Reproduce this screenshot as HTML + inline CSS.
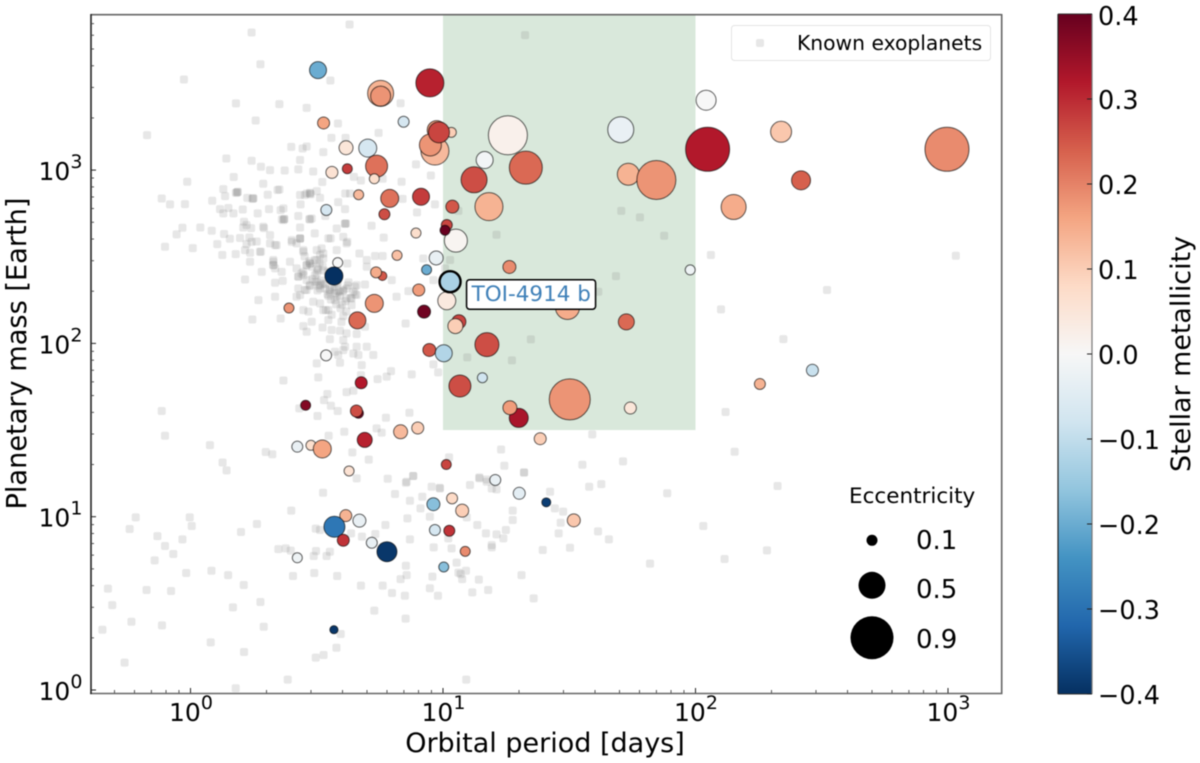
<!DOCTYPE html>
<html lang="en">
<head>
<meta charset="utf-8">
<title>Planetary mass vs orbital period</title>
<style>
html,body{margin:0;padding:0;background:#fff;width:1200px;height:763px;overflow:hidden}
svg{display:block;font-family:"DejaVu Sans","Liberation Sans",sans-serif;fill:#000;filter:blur(0.4px)}
</style>
</head>
<body>
<svg id="chart" xmlns="http://www.w3.org/2000/svg" width="1200" height="763" viewBox="0 0 1200 763">
  <defs>
    <linearGradient id="cmap" x1="0" y1="0" x2="0" y2="1"></linearGradient>
    <clipPath id="plot-clip"><rect x="91" y="14.5" width="910.5" height="679"></rect></clipPath>
  </defs>
  <rect x="91" y="14.5" width="910.5" height="679" fill="#fff"></rect>
  <g id="plot" clip-path="url(#plot-clip)"></g>
  <g id="axes"></g>
  <g>
    <rect x="731.5" y="25.5" width="259" height="35" rx="3" fill="#fff" fill-opacity="0.8" stroke="#e3e3e3" stroke-width="1"></rect>
    <rect x="756" y="39" width="8" height="8" rx="2" fill="#808080" fill-opacity="0.19"></rect>
    <text x="797" y="50" font-size="20.3">Known exoplanets</text>
  </g>
  <g id="ecc-legend">
    <text x="849" y="503" font-size="21.5">Eccentricity</text>
  </g>
  <g id="cbar">
    <rect x="1058" y="14" width="34" height="680" fill="url(#cmap)"></rect>
    <line x1="1058" y1="14" x2="1058" y2="694" stroke="#222" stroke-width="1.2"></line>
    <line x1="1092" y1="14" x2="1092" y2="694" stroke="#777" stroke-width="1.2"></line>
    <line x1="1058" y1="14" x2="1092" y2="14" stroke="#333" stroke-width="1"></line>
    <line x1="1058" y1="694" x2="1092" y2="694" stroke="#333" stroke-width="1"></line>
  </g>
  <text x="545" y="752" font-size="27" text-anchor="middle">Orbital period [days]</text>
  <text x="26" y="353.5" font-size="27.2" text-anchor="middle" transform="rotate(-90 26 353.5)">Planetary mass [Earth]</text>
  <text x="1190" y="354" font-size="26.9" text-anchor="middle" transform="rotate(-90 1190 354)">Stellar metallicity</text>
</svg>
<script>
/* log10(orbital period / days) and log10(mass / Earth) of the known-planet background */
const knownLogPeriod = [
.630,.242,.277,-.026,.554,.180,.352,.460,.832,.258,
.584,-.172,.745,.558,.614,.399,.444,.460,.526,.142,
.242,.434,.279,.315,.373,.427,.486,.893,.171,-.013,
.952,.647,.675,.761,.836,.288,.522,.130,.180,.187,
.352,.306,.500,.434,.460,.473,.613,.632,-.114,-.081,
-.022,.086,.137,.225,.245,.513,.585,.840,.436,.968,
.117,.150,.207,.311,.357,.612,.130,.170,.266,.370,
.427,.473,.534,.897,.212,.616,.717,-.032,.039,.084,
.209,.240,.291,.434,.579,-.055,.133,.315,.492,.605,
.765,.106,.156,.196,.233,.262,.401,.434,.555,.621,
.335,.420,-.101,.009,.222,
.126,.179,.236,.279,.447,.519,.669,.731,.698,.761,
.922,.236,.328,.328,.394,.473,.500,.526,.282,.335,
.420,.447,.500,.698,.216,.335,.365,.427,.500,.526,
.579,.621,.797,.434,.460,.513,.552,.605,.645,.691,
.658,.420,.579,.618,.269,.335,.486,.513,.572,.638,
.658,.863,.816,.526,.546,.447,.467,.605,.638,.546,
.245,.357,.480,.447,.460,.523,.559,.592,.618,.658,
.691,.852,.552,.605,.612,.658,.698,.724,.605,.585,
.572,.645,.665,.500,.592,.678,.962,.981,.368,.506,
.675,.794,.777,.741,.876,.542,.618,.645,.529,.556,
.583,.431,.503,.867,.774,-.114,.737,.757,.609,-.101,
.547,.077,.641,.298,.324,.706,.127,.143,.658,.882,
.856,
.493,.513,.460,.480,.506,.526,.447,.427,.460,.493,
.513,.533,.552,.592,.618,.651,.473,.453,.427,.328,
.341,.328,.361,.434,.401,.447,.500,.546,.618,.579,
.368,.368,.453,.473,.480,.612,.249,.288,.222,.242,
.216,.275,.315,.473,
-.217,-.241,-.003,.005,.263,.200,-.131,-.032,-.101,-.068,
-.142,-.017,.083,.149,.211,-.327,-.174,-.077,-.310,.168,
.277,-.349,-.234,-.113,.290,.080,.212,-.261,.385,.179,
.399,.525,.496,.513,.348,.377,.397,.497,.488,.552,
.539,.406,.490,.581,.675,.761,.798,.849,.728,.852,
.595,.578,.527,.496,.772,.859,.636,.679,.732,.869,
.963,.810,.955,.869,.918,.987,.882,.781,.853,.911,
.948,.958,.948,.980,.853,.832,.856,
1.107,1.144,1.173,1.193,1.212,1.321,1.424,1.443,1.476,1.579,
1.627,1.888,1.276,1.276,1.466,1.458,1.614,1.657,2.031,2.115,
1.820,1.136,1.170,1.212,1.249,1.239,1.193,1.193,1.395,1.503,
1.094,1.021,1.034,1.054,1.061,1.070,1.091,1.076,1.142,1.116,
1.179,1.311,1.359,1.092,.988,
1.325,1.061,1.212,1.706,1.780,1.876,1.028,1.008,.962,1.685,
1.615,2.061,2.101,1.348,1.096,1.273,2.119,1.591,1.230,1.024,
1.243,1.321,1.552,1.713,1.144,1.173,3.031,2.521,2.348,2.155,
2.325,2.283,
.44,.46,.483,.502,.517,.544,.562,.583,.604,.622,
.47,.493,.511,.533,.552,.574,.591,.613,.634,.652,
.452,.503,.556,.601,.523,.571,.626,.472,.543,.594,
.505,.528,.546,.567,.586,.536,.559,.577,.598,.617,
.183,.186,.362,.471,.248,.372,.434,.476,.345,.612
];
const knownLogMass = [
3.840,3.794,3.611,3.523,3.517,3.385,3.381,3.359,3.386,3.286,
3.269,3.202,3.215,3.186,3.186,3.134,3.125,3.136,3.104,3.067,
3.054,3.058,3.019,3.000,2.998,3.004,2.992,3.033,2.960,2.933,
2.969,2.961,2.940,2.950,2.933,2.921,2.931,2.890,2.869,2.875,
2.888,2.858,2.879,2.856,2.865,2.869,2.865,2.865,2.836,2.802,
2.804,2.823,2.850,2.840,2.834,2.840,2.815,2.834,2.802,2.802,
2.775,2.781,2.773,2.775,2.769,2.775,2.750,2.750,2.750,2.717,
2.735,2.715,2.735,2.756,2.702,2.692,2.679,2.667,2.669,2.650,
2.669,2.665,2.665,2.669,2.663,2.629,2.631,2.625,2.635,2.615,
2.610,2.573,2.604,2.608,2.611,2.588,2.596,2.606,2.606,2.586,
2.567,2.577,2.558,2.550,2.573,
2.510,2.515,2.523,2.529,2.529,2.548,2.519,2.504,2.481,2.504,
2.490,2.471,2.471,2.452,2.471,2.461,2.481,2.490,2.413,2.433,
2.433,2.394,2.404,2.442,2.369,2.350,2.361,2.385,2.356,2.346,
2.346,2.461,2.365,2.279,2.308,2.317,2.308,2.308,2.298,2.340,
2.336,2.269,2.269,2.260,2.250,2.269,2.240,2.231,2.250,2.260,
2.279,2.302,2.269,2.192,2.192,2.192,2.183,2.158,2.221,2.135,
2.138,2.144,2.125,2.100,2.067,2.092,2.077,2.073,2.058,2.054,
2.096,2.115,2.025,2.019,1.981,1.981,1.981,1.933,1.961,1.933,
1.952,1.942,1.933,1.885,1.888,1.875,1.879,1.833,1.786,1.804,
1.817,1.840,1.808,1.794,1.821,1.708,1.719,1.727,1.673,1.640,
1.610,1.625,1.581,1.600,1.571,1.610,1.510,1.485,1.490,1.467,
1.467,1.413,1.371,1.373,1.360,1.329,1.313,1.267,1.221,1.235,
1.202,
2.481,2.510,2.452,2.442,2.423,2.519,2.413,2.385,2.365,2.356,
2.336,2.317,2.298,2.298,2.317,2.327,2.336,2.308,2.317,2.481,
2.567,2.452,2.413,2.606,2.586,2.538,2.538,2.606,2.577,2.538,
2.779,2.711,2.856,2.865,2.721,2.692,2.836,2.673,2.683,2.586,
2.538,2.529,2.577,2.461,
.996,.929,.996,.946,.958,.912,.888,.869,.831,.785,
.748,.675,.688,.663,.606,.585,.577,.571,.490,.477,
.508,.348,.394,.373,.365,.275,.219,.158,.060,.010,
1.035,1.138,.931,.923,.813,.817,.804,.802,.773,.798,
.773,.658,.675,.658,.602,.602,.560,.544,.458,.412,
.323,.244,.202,.187,.952,.990,.904,.885,.900,.869,
.823,1.131,1.173,1.092,1.115,1.167,1.235,1.219,1.196,1.048,
1.000,.654,.587,.544,.717,.640,.663,
1.183,1.221,1.215,1.163,1.158,1.254,1.144,1.048,1.029,1.173,
1.188,1.135,1.035,.981,.965,.904,.915,.869,.946,.756,
.729,.952,.904,.898,.923,.875,.836,.823,.808,.821,
.996,.875,.817,.735,.677,.669,.688,.640,.637,.563,
.577,.663,.529,.060,1.163,
3.779,2.765,2.627,2.765,2.727,2.621,2.481,2.433,2.365,2.388,
2.298,2.510,2.196,2.023,1.919,1.902,1.604,1.475,1.388,1.342,
1.294,1.256,1.300,1.319,1.227,1.202,2.506,2.308,2.025,1.375,
1.177,.806,
2.403,2.452,2.371,2.434,2.362,2.412,2.323,2.351,2.304,2.335,
2.473,2.394,2.463,2.342,2.384,2.291,2.273,2.244,2.262,2.283,
2.502,2.306,2.253,2.224,2.445,2.313,2.352,2.331,2.284,2.203,
2.333,2.421,2.274,2.365,2.302,2.192,2.165,2.226,2.124,2.183,
2.870,2.873,2.716,2.718,2.838,2.718,2.604,2.860,2.885,2.690
];

/* highlighted sample: log10 period, log10 mass, eccentricity, stellar metallicity */
const planetLogPeriod = [
.505,.948,.753,.753,.527,.844,1.033,.975,.968,.950,
.984,.702,.616,.621,.737,.560,.728,.666,.789,.913,
1.037,.538,.768,.893,1.051,1.015,1.008,1.257,1.165,1.328,
1.123,1.182,1.704,1.734,1.845,2.042,2.048,2.339,2.418,2.151,
2.996,.583,.568,.760,.735,.818,.973,.935,.904,.925,
.728,.661,.390,.537,.946,1.003,.676,.456,.665,.657,
.832,.900,.690,.423,.477,.522,1.013,.628,1.015,1.263,
1.979,1.493,1.063,1.049,1.726,1.174,1.156,1.067,1.300,1.265,
1.502,1.742,1.385,1.207,2.255,2.463,.615,.570,.669,.605,
.718,.778,.423,.568,.962,.968,1.025,1.036,1.076,1.088,
1.003,1.302,1.409,1.518
];
const planetLogMass = [
3.577,3.503,3.443,3.427,3.272,3.279,3.218,3.231,3.110,3.145,
3.218,3.127,3.129,3.008,3.023,2.987,2.950,2.858,2.837,2.846,
2.789,2.770,2.745,2.637,2.593,2.683,2.653,3.201,3.058,3.014,
2.944,2.789,3.233,2.976,2.943,3.403,3.120,3.221,2.941,2.787,
3.120,2.466,2.389,2.389,2.410,2.508,2.493,2.425,2.308,2.183,
2.231,2.133,2.204,1.931,1.962,1.943,1.773,1.643,1.597,1.610,
1.490,1.512,1.443,1.404,1.412,1.391,1.301,1.264,2.246,2.441,
2.424,2.207,2.125,2.100,2.124,1.993,1.802,1.754,1.570,1.629,
1.677,1.627,1.450,1.212,1.766,1.845,1.006,.942,.977,.864,
.850,.798,.763,.348,1.072,.923,.919,1.106,1.035,.800,
.710,1.135,1.083,.979
];
const planetEccentricity = [
.25,.525,.475,.325,.125,.1,.075,.3,.525,.375,
.35,.275,.175,.075,.375,.125,.075,.075,.275,.25,
.15,.1,.1,.075,.4,.1,.075,.8,.25,.65,
.475,.525,.475,.375,.8,.325,.925,.35,.3,.45,
.925,.075,.275,.05,.1,.075,.175,.075,.125,.15,
.275,.25,.075,.1,.15,.25,.125,.075,.075,.125,
.175,.125,.2,.1,.075,.275,.075,.075,.275,.15,
.075,.425,.175,.2,.225,.425,.075,.375,.3,.175,
.85,.125,.125,.1,.1,.125,.125,.35,.15,.125,
.1,.325,.075,.03,.15,.1,.1,.1,.15,.075,
.075,.125,.05,.15
];
const planetMetallicity = [
-.2,.31,.14,.18,.16,-.07,.1,.17,.13,.18,
.27,-.07,.05,.28,.22,.06,.07,.13,.22,.28,
.25,-.07,.26,.07,.01,.27,.4,.02,-.01,.23,
.26,.14,-.03,.14,.18,0,.32,.11,.24,.15,
.19,0,-.4,.25,.15,.12,-.03,-.2,.17,.39,
.18,.23,.18,0,.25,-.12,.32,.37,.38,.26,
.13,.1,.31,-.03,.07,.16,.27,.06,.04,.19,
-.02,.15,.27,.1,.23,.26,-.08,.26,.33,.17,
.18,.05,.1,-.03,.14,-.09,.14,-.29,-.03,.29,
-.03,-.39,-.02,-.39,-.17,-.07,.29,.08,.1,.19,
-.17,-.04,-.38,.11
];

/* TOI-4914 b */
const toiLogPeriod = [1.028];
const toiLogMass = [2.356];
const toiEccentricity = [.35];
const toiMetallicity = [-.13];
const toiName = ["TOI-4914 b"];

/* shaded window: log10 period range, log10 mass floor */
const windowLogPeriod = [1, 2];
const windowLogMassMin = [1.5];

const xTickExponents = [0, 1, 2, 3];
const yTickExponents = [0, 1, 2, 3];
const minorMultipliers = [2, 3, 4, 5, 6, 7, 8, 9];
const colorbarTicks = [-.4, -.3, -.2, -.1, 0, .1, .2, .3, .4];
const eccentricityLegendValues = [.1, .5, .9];

const SVGNS = 'http://www.w3.org/2000/svg';
const X0 = 190.5, XD = 252.5, Y0 = 690, YD = 173.3;
const xAxis = lp => X0 + XD * lp;
const yAxis = lm => Y0 - YD * lm;
const rScale = e => 3.5 + 20 * e;
const cbarY = v => 354 - 850 * v;

const rdbuStops = ['#053061','#2166ac','#4393c3','#92c5de','#d1e5f0','#f7f7f7','#fddbc7','#f4a582','#d6604d','#b2182b','#67001f'];
function hex(c){return [1,3,5].map(i=>parseInt(c.substr(i,2),16));}
function colorFor(v){
  let t=(v+.4)/.8*10; t=Math.max(0,Math.min(10,t));
  const i=Math.min(9,Math.floor(t)), f=t-i, a=hex(rdbuStops[i]), b=hex(rdbuStops[i+1]);
  return 'rgb('+a.map((q,k)=>Math.round(q+(b[k]-q)*f)).join(',')+')';
}
function mk(tag, attrs, parent, txt){
  const el=document.createElementNS(SVGNS,tag);
  for(const k in attrs) el.setAttribute(k,attrs[k]);
  if(txt!==undefined) el.textContent=txt;
  parent.appendChild(el);
  return el;
}
const plot=document.getElementById('plot');
const axes=document.getElementById('axes');
const eccLegend=document.getElementById('ecc-legend');
const cbar=document.getElementById('cbar');
const cmap=document.getElementById('cmap');

/* colormap gradient */
rdbuStops.slice().reverse().forEach((c,i)=>{
  mk('stop',{offset:(i*10)+'%','stop-color':c},cmap);
});

/* shaded window */
{
  const wx=xAxis(windowLogPeriod[0]), wy=yAxis(windowLogMassMin[0]);
  const el=mk('rect',{x:wx,y:0,width:xAxis(windowLogPeriod[1])-wx,height:wy,fill:'#d9e8db'},plot);
  
  
}

/* known exoplanets */
knownLogPeriod.forEach((lp,i)=>{
  const el=mk('rect',{x:xAxis(lp)-4,y:yAxis(knownLogMass[i])-4,width:8,height:8,rx:2,fill:'#808080','fill-opacity':.19},plot);
  
  
});

/* sample planets */
planetLogPeriod.forEach((lp,i)=>{
  const el=mk('circle',{cx:xAxis(lp),cy:yAxis(planetLogMass[i]),r:rScale(planetEccentricity[i]),fill:colorFor(planetMetallicity[i]),stroke:'#000','stroke-opacity':.62,'stroke-width':1},plot);
  
  
});

/* TOI-4914 b highlighted */
{
  const el=mk('circle',{cx:xAxis(toiLogPeriod[0]),cy:yAxis(toiLogMass[0]),r:rScale(toiEccentricity[0]),fill:colorFor(toiMetallicity[0]),stroke:'#000','stroke-width':2.4},plot);
  
  
  const bx=xAxis(toiLogPeriod[0])+16.5, by=yAxis(toiLogMass[0])-2;
  const box=mk('rect',{x:bx,y:by,width:129,height:29.5,rx:3,fill:'#fff',stroke:'#000','stroke-width':1.5},plot);
  
  
  const t=mk('text',{x:bx+5,y:by+21.5,'font-size':21.5,fill:'#3f80b8'},plot,toiName[0]);
  
  
}

/* spines */
[[91,14.7,1001.7,14.7,'#666'],[1001.7,14,1001.7,694,'#666'],[90,693.5,1002.5,693.5,'#666'],[91,14,91,694,'#222']].forEach(s=>{
  const el=mk('line',{x1:s[0],y1:s[1],x2:s[2],y2:s[3],stroke:s[4],'stroke-width':1.6},axes);
  
  
});

/* x ticks */
xTickExponents.forEach(ex=>{
  const x=xAxis(ex);
  const tk=mk('line',{x1:x,y1:693,x2:x,y2:688,stroke:'#222','stroke-width':1},axes);
  
  
  const lab=mk('text',{x:x-21.5,y:721,'font-size':25},axes);
  
  
  lab.appendChild(document.createTextNode('10'));
  mk('tspan',{dy:-12,'font-size':19},lab,String(ex));
});
[-1,0,1,2,3].forEach(d=>{
  minorMultipliers.forEach(m=>{
    const x=xAxis(d+Math.log10(m));
    if(x<92||x>1000) return;
    const tk=mk('line',{x1:x,y1:693,x2:x,y2:690,stroke:'#444','stroke-width':.9},axes);
    
    
  });
});

/* y ticks */
yTickExponents.forEach(ex=>{
  const y=yAxis(ex);
  const tk=mk('line',{x1:91,y1:y,x2:96,y2:y,stroke:'#222','stroke-width':1},axes);
  
  
  const lab=mk('text',{x:38.5,y:y+10,'font-size':25},axes);
  
  
  lab.appendChild(document.createTextNode('10'));
  mk('tspan',{dy:-12,'font-size':19},lab,String(ex));
});
[0,1,2,3].forEach(d=>{
  minorMultipliers.forEach(m=>{
    const y=yAxis(d+Math.log10(m));
    if(y<15||y>692) return;
    const tk=mk('line',{x1:91,y1:y,x2:94,y2:y,stroke:'#444','stroke-width':.9},axes);
    
    
  });
});

/* eccentricity legend */
const eccY = [540.3, 585.3, 637.7];
const eccBase = [549, 598, 648];
eccentricityLegendValues.forEach((e,i)=>{
  const c=mk('circle',{cx:872,cy:eccY[i],r:rScale(e),fill:'#000'},eccLegend);
  
  
  const t=mk('text',{x:916,y:eccBase[i],'font-size':26},eccLegend,e.toFixed(1));
  
  
});

/* colorbar ticks */
colorbarTicks.forEach(v=>{
  const y=cbarY(v);
  const tk=mk('line',{x1:1087,y1:y,x2:1092,y2:y,stroke:'#222','stroke-width':1},cbar);
  
  
  const s=(v<0?'\u2212':'')+Math.abs(v).toFixed(1);
  const t=mk('text',{x:1098,y:y+10+(v===.4?1:0),'font-size':25.5},cbar,s);
  
  
});
</script>
</body>
</html>
